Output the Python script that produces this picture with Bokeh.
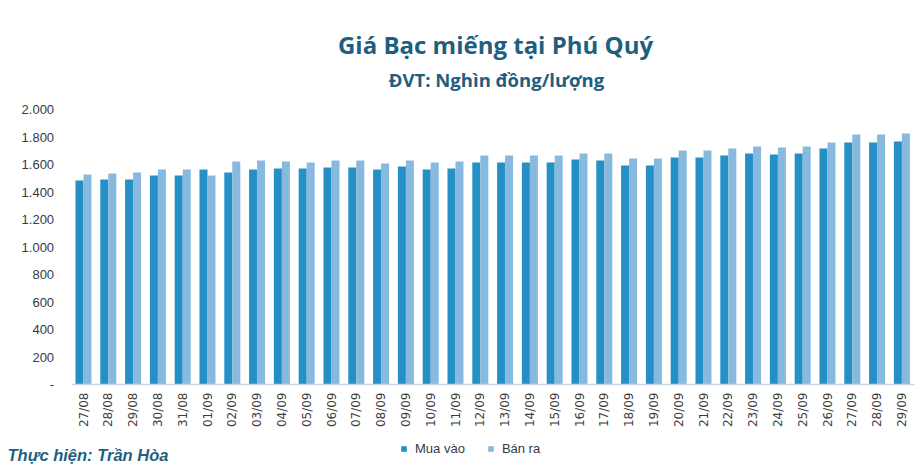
import math
from bokeh.plotting import figure
from bokeh.models import Range1d, FixedTicker, Label, Legend, LegendItem, ColumnDataSource
from bokeh.transform import dodge
from bokeh.embed import file_html
from bokeh.resources import INLINE

dates = ["27/08", "28/08", "29/08", "30/08", "31/08", "01/09", "02/09", "03/09", "04/09",
         "05/09", "06/09", "07/09", "08/09", "09/09", "10/09", "11/09", "12/09", "13/09",
         "14/09", "15/09", "16/09", "17/09", "18/09", "19/09", "20/09", "21/09", "22/09",
         "23/09", "24/09", "25/09", "26/09", "27/09", "28/09", "29/09"]
mua_vao = [1484, 1491, 1491, 1520, 1520, 1564, 1542, 1564, 1571, 1571, 1578, 1578, 1564,
           1585, 1564, 1571, 1615, 1615, 1615, 1615, 1636, 1629, 1593, 1593, 1651, 1651,
           1665, 1680, 1673, 1680, 1716, 1760, 1760, 1767]
ban_ra = [1527, 1535, 1542, 1564, 1564, 1520, 1622, 1629, 1622, 1615, 1629, 1629, 1607,
          1629, 1615, 1622, 1665, 1665, 1665, 1665, 1680, 1680, 1644, 1644, 1702, 1702,
          1716, 1731, 1724, 1731, 1760, 1818, 1818, 1825]
y_ticks = [0, 200, 400, 600, 800, 1000, 1200, 1400, 1600, 1800, 2000]
y_tick_labels = ["-", "200", "400", "600", "800", "1.000", "1.200", "1.400", "1.600", "1.800", "2.000"]

title_text = "Giá Bạc miếng tại Phú Quý"
subtitle_text = "ĐVT: Nghìn đồng/lượng"
credit_text = "Thực hiện: Trần Hòa"
series_names = ["Mua vào", "Bán ra"]

TITLE_COLOR = "#1E5F80"
MUA_COLOR = "#2490C5"
BAN_COLOR = "#88BADF"

W, H = 923, 468
LEFT_PX = 70.6        # left edge of first category
CAT_PX = 24.8         # width of one category
BASE_PX = 384.0       # canvas y of value 0
TOP_PX = 109.0        # canvas y of value 2000

x_start = -0.5 - LEFT_PX / CAT_PX
x_end = x_start + W / CAT_PX
ppu = (BASE_PX - TOP_PX) / 2000.0
y_end = BASE_PX / ppu
y_start = -(H - BASE_PX) / ppu


def cx(px):
    return x_start + px / CAT_PX


def cy(py):
    return (BASE_PX - py) / ppu


idx = list(range(len(dates)))
src = ColumnDataSource(dict(i=idx, mua=mua_vao, ban=ban_ra))

p = figure(x_range=Range1d(x_start, x_end), y_range=Range1d(y_start, y_end),
           width=W, height=H, output_backend="svg", toolbar_location=None,
           min_border=0, min_border_left=0, min_border_right=0,
           min_border_top=0, min_border_bottom=0)

bw = 0.323
r1 = p.vbar(x=dodge("i", -bw / 2), top="mua", width=bw, source=src,
            fill_color=MUA_COLOR, line_color=None)
r2 = p.vbar(x=dodge("i", bw / 2), top="ban", width=bw, source=src,
            fill_color=BAN_COLOR, line_color=None)

p.xgrid.visible = False
p.ygrid.visible = False
p.outline_line_color = None
p.background_fill_color = "white"
p.border_fill_color = "white"

# y axis (drawn at the left edge of the bar area)
p.yaxis.fixed_location = -0.5
p.yaxis.ticker = FixedTicker(ticks=y_ticks)
p.yaxis.major_label_overrides = {t: l for t, l in zip(y_ticks, y_tick_labels)}
p.yaxis.axis_line_color = None
p.yaxis.major_tick_line_color = None
p.yaxis.minor_tick_line_color = None
p.yaxis.major_tick_out = 0
p.yaxis.major_tick_in = 0
p.yaxis.major_label_standoff = 17
p.yaxis.major_label_text_font = "Liberation Sans"
p.yaxis.major_label_text_font_size = "13px"
p.yaxis.major_label_text_color = "#333B47"

# x axis (drawn at value 0)
p.xaxis.fixed_location = 0
p.xaxis.ticker = FixedTicker(ticks=idx)
p.xaxis.major_label_overrides = {i: d for i, d in zip(idx, dates)}
p.xaxis.axis_line_color = "#C8D6E6"
p.xaxis.axis_line_width = 1.5
p.xaxis.bounds = (-0.5, len(dates) - 0.5)
p.xaxis.major_tick_line_color = None
p.xaxis.minor_tick_line_color = None
p.xaxis.major_tick_out = 0
p.xaxis.major_tick_in = 0
p.xaxis.major_label_orientation = math.pi / 2
p.xaxis.major_label_standoff = 8
p.xaxis.major_label_text_font = "DejaVu Sans"
p.xaxis.major_label_text_font_size = "12px"
p.xaxis.major_label_text_color = "#404040"

# titles and credit
p.add_layout(Label(x=cx(495), y=cy(44), text=title_text, text_align="center",
                   text_baseline="middle", text_font="Open Sans", text_font_style="bold",
                   text_font_size="24px", text_color=TITLE_COLOR))
p.add_layout(Label(x=cx(496), y=cy(79), text=subtitle_text, text_align="center",
                   text_baseline="middle", text_font="Open Sans", text_font_style="bold",
                   text_font_size="18.5px", text_color=TITLE_COLOR))
p.add_layout(Label(x=cx(7), y=cy(454), text=credit_text, text_align="left",
                   text_baseline="middle", text_font="Liberation Sans",
                   text_font_style="bold italic", text_font_size="16.5px",
                   text_color=TITLE_COLOR))

legend = Legend(items=[LegendItem(label=series_names[0], renderers=[r1]),
                       LegendItem(label=series_names[1], renderers=[r2])],
                orientation="horizontal", location=(400, 12), margin=0, padding=0,
                spacing=22, glyph_width=7, glyph_height=7, label_standoff=8,
                label_text_font="Liberation Sans", label_text_font_size="13px",
                label_text_color="#333B47", border_line_color=None,
                background_fill_alpha=0)
p.add_layout(legend, "center")

open("out.html", "w").write(file_html(p, INLINE))
